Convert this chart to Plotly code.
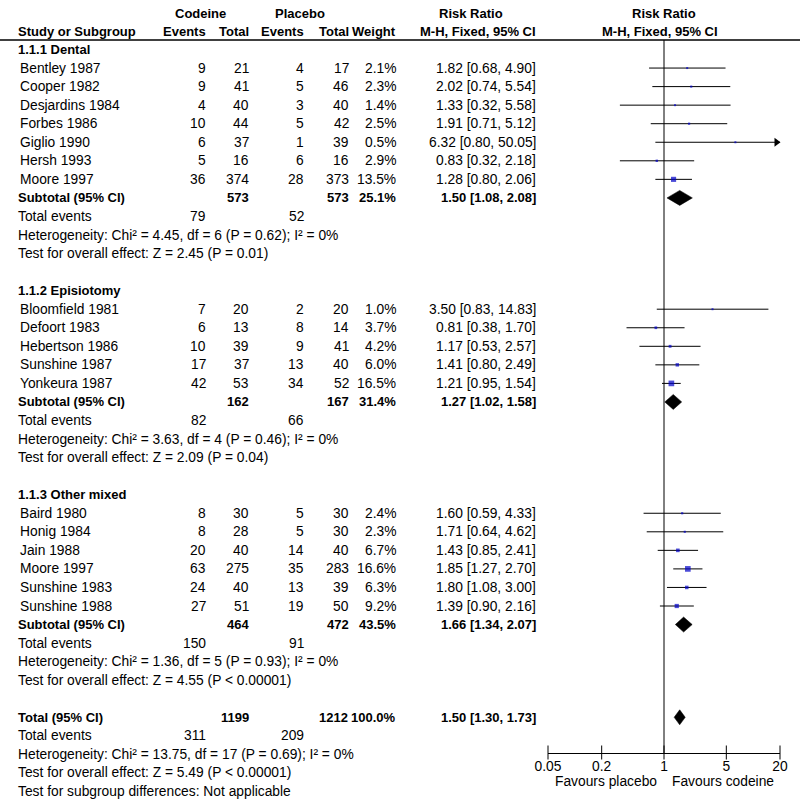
import numpy as np
import plotly.graph_objects as go

# ---- data ----
groups = ["1.1.1 Dental", "1.1.2 Episiotomy", "1.1.3 Other mixed"]
studies = ["Bentley 1987", "Cooper 1982", "Desjardins 1984", "Forbes 1986", "Giglio 1990",
           "Hersh 1993", "Moore 1997",
           "Bloomfield 1981", "Defoort 1983", "Hebertson 1986", "Sunshine 1987", "Yonkeura 1987",
           "Baird 1980", "Honig 1984", "Jain 1988", "Moore 1997", "Sunshine 1983", "Sunshine 1988"]
study_group = [0] * 7 + [1] * 5 + [2] * 6
cod_events = [9, 9, 4, 10, 6, 5, 36, 7, 6, 10, 17, 42, 8, 8, 20, 63, 24, 27]
cod_total = [21, 41, 40, 44, 37, 16, 374, 20, 13, 39, 37, 53, 30, 28, 40, 275, 40, 51]
pla_events = [4, 5, 3, 5, 1, 6, 28, 2, 8, 9, 13, 34, 5, 5, 14, 35, 13, 19]
pla_total = [17, 46, 40, 42, 39, 16, 373, 20, 14, 41, 40, 52, 30, 30, 40, 283, 39, 50]
weight = [2.1, 2.3, 1.4, 2.5, 0.5, 2.9, 13.5, 1.0, 3.7, 4.2, 6.0, 16.5, 2.4, 2.3, 6.7, 16.6, 6.3, 9.2]
rr = [1.82, 2.02, 1.33, 1.91, 6.32, 0.83, 1.28, 3.50, 0.81, 1.17, 1.41, 1.21,
      1.60, 1.71, 1.43, 1.85, 1.80, 1.39]
rr_lo = [0.68, 0.74, 0.32, 0.71, 0.80, 0.32, 0.80, 0.83, 0.38, 0.53, 0.80, 0.95,
         0.59, 0.64, 0.85, 1.27, 1.08, 0.90]
rr_hi = [4.90, 5.54, 5.58, 5.12, 50.05, 2.18, 2.06, 14.83, 1.70, 2.57, 2.49, 1.54,
         4.33, 4.62, 2.41, 2.70, 3.00, 2.16]

sub_cod_total = [573, 162, 464]
sub_pla_total = [573, 167, 472]
sub_cod_events = [79, 82, 150]
sub_pla_events = [52, 66, 91]
sub_weight = [25.1, 31.4, 43.5]
sub_rr = [1.50, 1.27, 1.66]
sub_lo = [1.08, 1.02, 1.34]
sub_hi = [2.08, 1.58, 2.07]
sub_het = ["Heterogeneity: Chi² = 4.45, df = 6 (P = 0.62); I² = 0%",
           "Heterogeneity: Chi² = 3.63, df = 4 (P = 0.46); I² = 0%",
           "Heterogeneity: Chi² = 1.36, df = 5 (P = 0.93); I² = 0%"]
sub_test = ["Test for overall effect: Z = 2.45 (P = 0.01)",
            "Test for overall effect: Z = 2.09 (P = 0.04)",
            "Test for overall effect: Z = 4.55 (P < 0.00001)"]

tot_cod_total, tot_pla_total = 1199, 1212
tot_cod_events, tot_pla_events = 311, 209
tot_weight = 100.0
tot_rr, tot_lo, tot_hi = 1.50, 1.30, 1.73
tot_notes = ["Heterogeneity: Chi² = 13.75, df = 17 (P = 0.69); I² = 0%",
             "Test for overall effect: Z = 5.49 (P < 0.00001)",
             "Test for subgroup differences: Not applicable"]

tick_vals = [0.05, 0.2, 1, 5, 20]
tick_text = ["0.05", "0.2", "1", "5", "20"]
x_min, x_max = 0.05, 20

# ---- layout helpers ----
FONT = "Liberation Sans, Arial, sans-serif"
FS, FS_B = 13.8, 13
ROW0, STEP = 49.5, 18.55
col = dict(name=17, ce=207, ct=250, pe=305, pt=350, w=397, rr=537)
AX_L, AX_R = 548, 780

def row_y(i):
    return ROW0 + STEP * i

ann = []

def txt(x, y, s, anchor="right", bold=False):
    ann.append(dict(x=x, y=y, xref="x", yref="y", text=f"<b>{s}</b>" if bold else s,
                    showarrow=False, xanchor=anchor, yanchor="middle", borderpad=0,
                    font=dict(family=FONT, size=FS_B if bold else FS, color="black")))

fig = go.Figure()

# header
txt(200, 13, "Codeine", "center", True)
txt(300, 13, "Placebo", "center", True)
txt(471, 13, "Risk Ratio", "center", True)
txt(664, 13, "Risk Ratio", "center", True)
hy = 31.5
txt(col["name"], hy, "Study or Subgroup", "left", True)
txt(col["ce"], hy, "Events", bold=True)
txt(col["ct"], hy, "Total", bold=True)
txt(col["pe"], hy, "Events", bold=True)
txt(col["pt"], hy, "Total", bold=True)
txt(col["w"], hy, "Weight", bold=True)
txt(col["rr"], hy, "M-H, Fixed, 95% CI", bold=True)
txt(660, hy, "M-H, Fixed, 95% CI", "center", True)

sq_x, sq_y, sq_s = [], [], []
ci_x, ci_y = [], []
diamonds = []
arrows_y = []

r = 0
for g, gname in enumerate(groups):
    txt(col["name"], row_y(r), gname, "left", True)
    r += 1
    for i in [k for k, sg in enumerate(study_group) if sg == g]:
        y = row_y(r)
        txt(col["name"] + 2, y, studies[i], "left")
        txt(col["ce"], y, str(cod_events[i]))
        txt(col["ct"], y, str(cod_total[i]))
        txt(col["pe"], y, str(pla_events[i]))
        txt(col["pt"], y, str(pla_total[i]))
        txt(col["w"], y, f"{weight[i]:.1f}%")
        txt(col["rr"], y, f"{rr[i]:.2f} [{rr_lo[i]:.2f}, {rr_hi[i]:.2f}]")
        hi = min(rr_hi[i], x_max)
        if rr_hi[i] > x_max:
            arrows_y.append(y)
        ci_x += [max(rr_lo[i], x_min), hi, None]
        ci_y += [y, y, None]
        sq_x.append(rr[i]); sq_y.append(y)
        sq_s.append(max(2, 1.4 * np.sqrt(weight[i])))
        r += 1
    y = row_y(r)
    txt(col["name"], y, "Subtotal (95% CI)", "left", True)
    txt(col["ct"], y, str(sub_cod_total[g]), bold=True)
    txt(col["pt"], y, str(sub_pla_total[g]), bold=True)
    txt(col["w"], y, f"{sub_weight[g]:.1f}%", bold=True)
    txt(col["rr"], y, f"{sub_rr[g]:.2f} [{sub_lo[g]:.2f}, {sub_hi[g]:.2f}]", bold=True)
    diamonds.append((sub_lo[g], sub_rr[g], sub_hi[g], y))
    r += 1
    y = row_y(r)
    txt(col["name"], y, "Total events", "left")
    txt(col["ce"], y, str(sub_cod_events[g]))
    txt(col["pe"], y, str(sub_pla_events[g]))
    r += 1
    txt(col["name"], row_y(r), sub_het[g], "left")
    r += 1
    txt(col["name"], row_y(r), sub_test[g], "left")
    r += 2

y = row_y(r)
txt(col["name"], y, "Total (95% CI)", "left", True)
txt(col["ct"], y, str(tot_cod_total), bold=True)
txt(col["pt"] - 1, y, str(tot_pla_total), bold=True)
txt(col["w"], y, f"{tot_weight:.1f}%", bold=True)
txt(col["rr"], y, f"{tot_rr:.2f} [{tot_lo:.2f}, {tot_hi:.2f}]", bold=True)
diamonds.append((tot_lo, tot_rr, tot_hi, y))
r += 1
y = row_y(r)
txt(col["name"], y, "Total events", "left")
txt(col["ce"], y, str(tot_cod_events))
txt(col["pe"], y, str(tot_pla_events))
for note in tot_notes:
    r += 1
    txt(col["name"], row_y(r), note, "left")

AXIS_Y = 753
txt(606, 781, "Favours placebo", "center")
txt(723, 781, "Favours codeine", "center")

# dummy trace so the linear pixel axis exists
fig.add_trace(go.Scatter(x=[0, 800], y=[0, 803], mode="markers",
                         marker=dict(opacity=0), hoverinfo="skip", showlegend=False))

# line of no effect
fig.add_trace(go.Scatter(x=[1, 1], y=[40, AXIS_Y], mode="lines", xaxis="x2", yaxis="y",
                         line=dict(color="black", width=1), showlegend=False))
# confidence intervals
fig.add_trace(go.Scatter(x=ci_x, y=ci_y, mode="lines", xaxis="x2", yaxis="y",
                         line=dict(color="black", width=1), showlegend=False))
# arrow heads for CIs beyond the axis
if arrows_y:
    px_per_dec = (AX_R - AX_L) / (np.log10(x_max) - np.log10(x_min))
    fig.add_trace(go.Scatter(x=[x_max / 10 ** (3.5 / px_per_dec)] * len(arrows_y), y=arrows_y,
                             mode="markers", xaxis="x2", yaxis="y", cliponaxis=False,
                             marker=dict(symbol="triangle-right", size=8, color="black"),
                             showlegend=False))
# study squares
fig.add_trace(go.Scatter(x=sq_x, y=sq_y, mode="markers", xaxis="x2", yaxis="y",
                         marker=dict(symbol="square", size=sq_s, color="#0000c8",
                                     line=dict(width=0)), showlegend=False))
# diamonds
for lo, est, hi, y in diamonds:
    fig.add_trace(go.Scatter(x=[lo, est, hi, est, lo], y=[y, y - 7.5, y, y + 7.5, y],
                             mode="lines", fill="toself", fillcolor="black", xaxis="x2",
                             yaxis="y", line=dict(color="black", width=0.5), showlegend=False))
# tick marks crossing the axis line
fig.add_trace(go.Scatter(x=tick_vals, y=[AXIS_Y - 0.5] * len(tick_vals), mode="markers",
                         xaxis="x2", yaxis="y", cliponaxis=False,
                         marker=dict(symbol="line-ns", size=10, line=dict(color="black", width=1)),
                         showlegend=False))

fig.update_layout(
    width=800, height=803, margin=dict(l=0, r=0, t=0, b=0, autoexpand=False),
    paper_bgcolor="white", plot_bgcolor="white", showlegend=False,
    annotations=ann,
    shapes=[dict(type="line", xref="paper", yref="y", x0=0, x1=1, y0=40, y1=40,
                 line=dict(color="black", width=1.5))],
    xaxis=dict(range=[0, 800], visible=False, domain=[0, 1], automargin=False),
    yaxis=dict(range=[803, 0], visible=False, domain=[0, 1], automargin=False),
    xaxis2=dict(type="log", range=[np.log10(x_min), np.log10(x_max)],
                domain=[AX_L / 800, AX_R / 800], anchor="free", position=1 - AXIS_Y / 803,
                showline=True, linecolor="black", linewidth=1, automargin=False,
                tickvals=tick_vals, ticktext=tick_text, ticks="", showgrid=False,
                zeroline=False, tickfont=dict(family=FONT, size=FS, color="black")),
)

fig.write_html("out.html", config={"displayModeBar": False},
               post_script="document.body.style.margin='0';")
